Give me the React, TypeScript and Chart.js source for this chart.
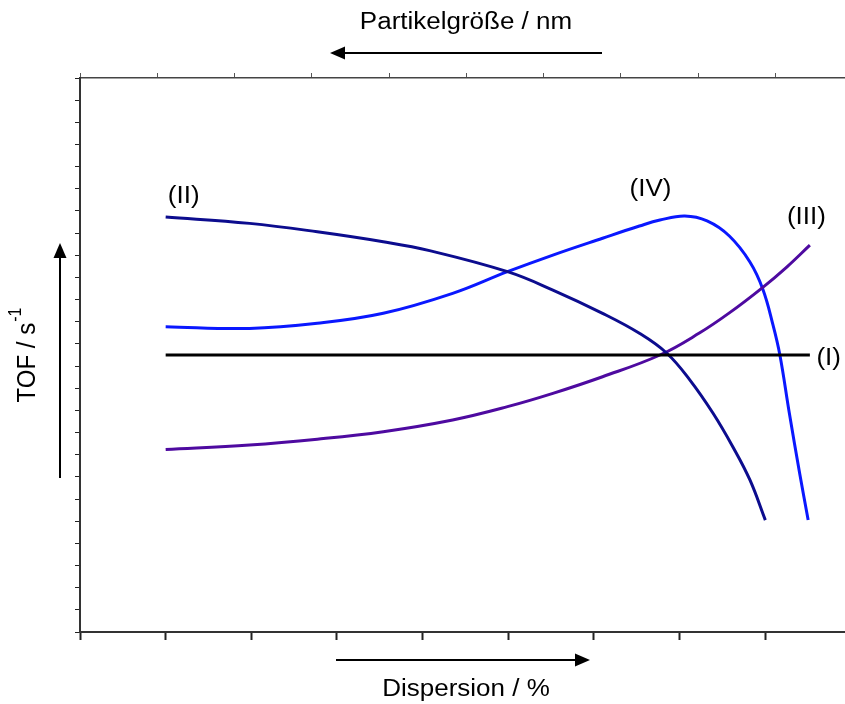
import React, { useEffect, useRef } from 'react';
import { Chart, registerables } from 'chart.js';

Chart.register(...registerables);

// Axis ranges (arbitrary units, no tick labels in the original)
const xMin = 0;
const xMax = 8.93;       // Dispersion axis (bottom)
const x2Max = 9.9;       // Partikelgröße axis (top)
const yMin = 0;
const yMax = 25;

// Series (I) – constant TOF
const seriesIx = [1.0, 8.52];
const seriesIy = [12.5, 12.5];

// Series (II)
const seriesIIx = [1.0, 1.98, 2.77, 3.54, 4.08, 4.99, 5.52, 6.1, 6.53, 6.85, 7.12, 7.39, 7.62, 7.82, 8.0];
const seriesIIy = [18.73, 18.44, 18.06, 17.61, 17.21, 16.26, 15.43, 14.38, 13.48, 12.58, 11.37, 9.87, 8.36, 6.86, 5.05];

// Series (III)
const seriesIIIx = [1.0, 1.98, 2.77, 3.54, 4.35, 4.99, 5.52, 6.1, 6.77, 7.23, 7.58, 7.96, 8.25, 8.52];
const seriesIIIy = [8.24, 8.44, 8.7, 9.04, 9.57, 10.17, 10.77, 11.52, 12.5, 13.49, 14.4, 15.52, 16.47, 17.46];

// Series (IV)
const seriesIVx = [1.0, 1.98, 2.77, 3.54, 4.35, 4.99, 5.52, 6.1, 6.53, 6.77, 7.06, 7.32, 7.58, 7.82, 7.97, 8.09, 8.17, 8.28, 8.4, 8.5];
const seriesIVy = [13.78, 13.7, 13.93, 14.38, 15.28, 16.26, 17.01, 17.77, 18.32, 18.59, 18.77, 18.55, 17.87, 16.7, 15.48, 13.85, 12.5, 9.88, 7.18, 5.05];

// Curve labels
const curveLabels = ['(I)', '(II)', '(III)', '(IV)'];
const curveLabelX = [8.74, 1.21, 8.48, 6.66];
const curveLabelY = [12.32, 19.63, 18.68, 19.95];

// Axis titles
const topTitle = 'Partikelgröße / nm';
const bottomTitle = 'Dispersion / %';
const leftTitleMain = 'TOF / s';
const leftTitleSup = '-1';

const FONT = '"Liberation Sans", Arial, Helvetica, sans-serif';

function toPoints(xs: number[], ys: number[]) {
  return xs.map((x, i) => ({ x, y: ys[i] }));
}

function drawArrow(ctx: CanvasRenderingContext2D, x1: number, y1: number, x2: number, y2: number) {
  const ang = Math.atan2(y2 - y1, x2 - x1);
  const headLen = 15;
  const headHalf = 6.5;
  const bx = x2 - headLen * Math.cos(ang);
  const by = y2 - headLen * Math.sin(ang);
  ctx.save();
  ctx.strokeStyle = '#000';
  ctx.fillStyle = '#000';
  ctx.lineWidth = 2;
  ctx.beginPath();
  ctx.moveTo(x1, y1);
  ctx.lineTo(bx, by);
  ctx.stroke();
  ctx.beginPath();
  ctx.moveTo(x2, y2);
  ctx.lineTo(bx + headHalf * Math.sin(ang), by - headHalf * Math.cos(ang));
  ctx.lineTo(bx - headHalf * Math.sin(ang), by + headHalf * Math.cos(ang));
  ctx.closePath();
  ctx.fill();
  ctx.restore();
}

function drawStretched(ctx: CanvasRenderingContext2D, text: string, x: number, y: number, size: number) {
  ctx.save();
  ctx.translate(x, y);
  ctx.scale(1.13, 1);
  ctx.font = `${size}px ${FONT}`;
  ctx.textAlign = 'center';
  ctx.textBaseline = 'middle';
  ctx.fillStyle = '#000';
  ctx.fillText(text, 0, 0);
  ctx.restore();
}

const decorPlugin = {
  id: 'decor',
  afterDraw(chart: any) {
    const ctx: CanvasRenderingContext2D = chart.ctx;
    const xs = chart.scales.x;
    const ys = chart.scales.y;

    // curve labels
    curveLabels.forEach((t, i) => {
      drawStretched(ctx, t, xs.getPixelForValue(curveLabelX[i]), ys.getPixelForValue(curveLabelY[i]), 23);
    });

    // top title + arrow
    drawStretched(ctx, topTitle, 466, 23, 23);
    drawArrow(ctx, 602, 53, 330, 53);

    // bottom title + arrow
    drawStretched(ctx, bottomTitle, 466, 690, 23);
    drawArrow(ctx, 336, 660, 590, 660);

    // left title (rotated) + arrow
    ctx.save();
    ctx.translate(35, 355);
    ctx.rotate(-Math.PI / 2);
    ctx.scale(1, 1.1);
    ctx.fillStyle = '#000';
    ctx.textBaseline = 'alphabetic';
    ctx.textAlign = 'left';
    ctx.font = `24px ${FONT}`;
    const wMain = ctx.measureText(leftTitleMain).width;
    ctx.font = `16px ${FONT}`;
    const wSup = ctx.measureText(leftTitleSup).width;
    const total = wMain + wSup + 1;
    ctx.font = `24px ${FONT}`;
    ctx.fillText(leftTitleMain, -total / 2, 0);
    ctx.font = `16px ${FONT}`;
    ctx.fillText(leftTitleSup, -total / 2 + wMain + 1, -12.7);
    ctx.restore();
    drawArrow(ctx, 60, 478, 60, 243);
  },
};

export default function App() {
  const canvasRef = useRef<HTMLCanvasElement | null>(null);

  useEffect(() => {
    const canvas = canvasRef.current;
    if (!canvas) return;
    const lineDs = (label: string, xs: number[], ys: number[], color: string) => ({
      label,
      data: toPoints(xs, ys),
      borderColor: color,
      backgroundColor: color,
      borderWidth: 3,
      pointRadius: 0,
      fill: false,
      tension: 0.4,
      cubicInterpolationMode: 'default' as const,
      xAxisID: 'x',
      yAxisID: 'y',
    });
    const chart = new Chart(canvas, {
      type: 'line',
      data: {
        datasets: [
          lineDs('(I)', seriesIx, seriesIy, '#000000'),
          lineDs('(II)', seriesIIx, seriesIIy, '#0c0c8e'),
          lineDs('(III)', seriesIIIx, seriesIIIy, '#4e0aa0'),
          lineDs('(IV)', seriesIVx, seriesIVy, '#0a18ff'),
        ],
      },
      options: {
        animation: false,
        responsive: false,
        devicePixelRatio: 1,
        layout: { padding: { left: 75, top: 73, right: 0, bottom: 64 } },
        plugins: {
          legend: { display: false },
          tooltip: { enabled: false },
          title: { display: false },
        },
        scales: {
          x: {
            type: 'linear',
            position: 'bottom',
            min: xMin,
            max: xMax,
            ticks: { display: false, stepSize: 1, includeBounds: false },
            grid: { drawOnChartArea: false, drawTicks: true, tickLength: 8, tickWidth: 2, tickColor: '#222' },
            border: { display: true, color: '#333', width: 2 },
          },
          x2: {
            type: 'linear',
            axis: 'x',
            position: 'top',
            min: xMin,
            max: x2Max,
            ticks: { display: false, stepSize: 1, includeBounds: false },
            grid: { drawOnChartArea: false, drawTicks: true, tickLength: 5, tickWidth: 1, tickColor: '#555' },
            border: { display: true, color: '#444', width: 1.5 },
          },
          y: {
            type: 'linear',
            position: 'left',
            min: yMin,
            max: yMax,
            ticks: { display: false, stepSize: 1, includeBounds: false },
            grid: { drawOnChartArea: false, drawTicks: true, tickLength: 5, tickWidth: 1, tickColor: '#222' },
            border: { display: true, color: '#333', width: 2 },
          },
        },
      } as any,
      plugins: [decorPlugin],
    });
    return () => chart.destroy();
  }, []);

  return (
    <div style={{ position: 'absolute', left: 0, top: 0, width: 845, height: 704, background: '#fff' }}>
      <canvas ref={canvasRef} width={845} height={704} style={{ display: 'block' }} />
    </div>
  );
}
